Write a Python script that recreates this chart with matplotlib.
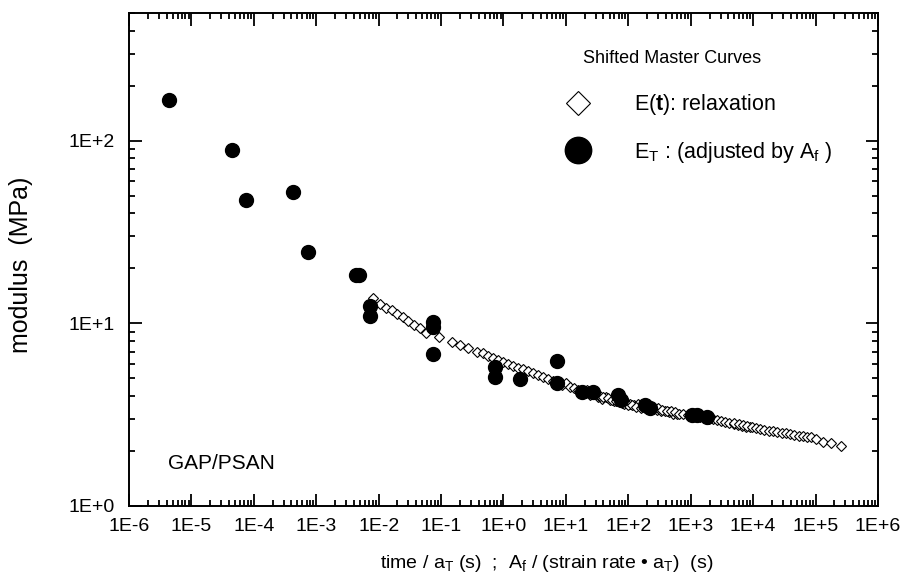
import matplotlib

matplotlib.use("Agg")
import matplotlib.pyplot as plt
from matplotlib.lines import Line2D
from matplotlib.ticker import LogLocator, NullFormatter
import numpy as np

plt.rcParams.update(
    {
        "font.family": ["Liberation Sans", "DejaVu Sans"],
        "mathtext.fontset": "custom",
        "mathtext.rm": "Liberation Sans",
        "mathtext.bf": "Liberation Sans:bold",
        "mathtext.default": "regular",
        "axes.linewidth": 1.4,
    }
)

# E(t): relaxation master curve (open diamonds), shifted segments
relax_t = [
    0.0081, 0.0105, 0.0131, 0.0164, 0.0197, 0.0246, 0.0296, 0.0369, 0.046, 0.0575,
    0.093, 0.15, 0.20, 0.27, 0.38, 0.47, 0.57, 0.68,
    0.82, 0.99, 1.19, 1.43, 1.71, 2.06, 2.48, 2.98, 3.58, 4.31, 5.18, 6.23,
    7.5, 8.7, 10, 11.6, 13.5, 15.6, 18, 21, 24, 28, 33, 38, 44, 51, 59, 68, 79, 92, 107, 124, 144,
    22, 26, 30, 35, 40, 47, 55, 64, 74, 86, 100, 116, 135, 157, 182, 211, 245, 285, 330, 383, 445, 516, 600,
    300, 350, 410, 480, 560, 650, 760, 890, 1040, 1210, 1410, 1650, 1930, 2250, 2630, 3070, 3580, 4180,
    4880, 5700, 6650, 7760, 9060,
    5000, 5900, 6900, 8100, 9500, 11100, 13000, 15200, 17800, 20800, 24400, 28500, 33400, 39100, 45700,
    53500, 62600, 73200, 85700,
    1.0e5, 1.3e5, 1.8e5, 2.6e5,
]
relax_E = [
    13.7, 12.7, 12.2, 11.8, 11.3, 10.8, 10.3, 9.75, 9.4, 8.9,
    8.4, 7.9, 7.6, 7.3, 7.0, 6.86, 6.6, 6.44,
    6.28, 6.12, 5.97, 5.82, 5.68, 5.6, 5.47, 5.33, 5.2, 5.07, 4.94, 4.82,
    4.8, 4.6, 4.7, 4.5, 4.45, 4.3, 4.2, 4.15, 4.05, 4.1, 3.95, 3.85, 3.95, 3.8, 3.75, 3.85, 3.65, 3.7, 3.6, 3.55, 3.6,
    4.3, 4.2, 4.1, 4.0, 3.95, 3.9, 3.8, 3.75, 3.7, 3.6, 3.55, 3.55, 3.5, 3.45, 3.45, 3.4, 3.4, 3.35, 3.3, 3.3, 3.25, 3.2, 3.2,
    3.45, 3.35, 3.3, 3.3, 3.25, 3.2, 3.2, 3.15, 3.15, 3.1, 3.08, 3.05, 3.0, 2.98, 2.95, 2.92, 2.88, 2.85,
    2.82, 2.78, 2.75, 2.72, 2.7,
    2.85, 2.8, 2.78, 2.74, 2.7, 2.68, 2.64, 2.62, 2.58, 2.56, 2.54, 2.52, 2.5, 2.48, 2.46,
    2.43, 2.41, 2.4, 2.38,
    2.32, 2.25, 2.2, 2.13,
]

# E_T adjusted by A_f (filled circles)
et_t = [
    4.4e-6, 4.5e-5, 7.5e-5, 4.25e-4, 7.4e-4, 4.3e-3, 4.8e-3, 7.3e-3, 7.3e-3,
    7.45e-2, 7.45e-2, 7.45e-2, 0.73, 0.73, 1.85, 7.2, 7.2,
    18.2, 27.3, 68.7, 77, 186, 224, 1050, 1270, 1830,
]
et_E = [
    167, 89, 47.6, 52.6, 24.7, 18.5, 18.5, 12.5, 10.9,
    10.2, 9.5, 6.76, 5.75, 5.07, 4.94, 6.2, 4.7,
    4.2, 4.2, 4.04, 3.8, 3.56, 3.43, 3.14, 3.14, 3.07,
]

x_ticks = [1e-6, 1e-5, 1e-4, 1e-3, 1e-2, 1e-1, 1e0, 1e1, 1e2, 1e3, 1e4, 1e5, 1e6]
x_tick_labels = ["1E-6", "1E-5", "1E-4", "1E-3", "1E-2", "1E-1", "1E+0",
                 "1E+1", "1E+2", "1E+3", "1E+4", "1E+5", "1E+6"]
y_ticks = [1, 10, 100]
y_tick_labels = ["1E+0", "1E+1", "1E+2"]

fig = plt.figure(figsize=(9.04, 5.80), dpi=100)
ax = fig.add_axes([0.1427, 0.1276, 0.8285, 0.85])

ax.plot(relax_t, relax_E, linestyle="none", marker="D", ms=5,
        mfc="white", mec="black", mew=0.8, zorder=2)
ax.plot(et_t, et_E, linestyle="none", marker="o", ms=10,
        mfc="black", mec="black", zorder=3)

ax.set_xscale("log")
ax.set_yscale("log")
ax.set_xlim(1e-6, 1e6)
ax.set_ylim(1, 500)
ax.set_xticks(x_ticks, labels=x_tick_labels)
ax.set_yticks(y_ticks, labels=y_tick_labels)
ax.xaxis.set_minor_locator(LogLocator(base=10, subs=np.arange(2, 10), numticks=100))
ax.yaxis.set_minor_locator(LogLocator(base=10, subs=np.arange(2, 10), numticks=100))
ax.xaxis.set_minor_formatter(NullFormatter())
ax.yaxis.set_minor_formatter(NullFormatter())

ax.tick_params(which="both", direction="in", top=True, right=True, width=1.3,
               labelsize=14)
ax.tick_params(which="major", length=9)
ax.tick_params(which="minor", length=4.5)
ax.tick_params(axis="x", pad=9)
ax.tick_params(axis="y", pad=10)

ax.set_ylabel("modulus  (MPa)", fontsize=18)
ax.yaxis.set_label_coords(-0.128, 0.49)
ax.set_xlabel("time / a$_{T}$ (s)  ;  A$_{f}$ / (strain rate \u2022 a$_{T}$)  (s)",
              fontsize=14)
ax.xaxis.set_label_coords(0.558, -0.095)

ax.text(0.052, 0.087, "GAP/PSAN", transform=ax.transAxes, fontsize=15,
        ha="left", va="center")
ax.text(0.606, 0.907, "Shifted Master Curves", transform=ax.transAxes,
        fontsize=13, ha="left", va="center")

handles = [
    Line2D([], [], linestyle="none", marker="D", ms=12.5, mfc="white",
           mec="black", mew=0.8),
    Line2D([], [], linestyle="none", marker="o", ms=19, mfc="black", mec="black"),
]
labels = ["E($\\mathbf{t}$): relaxation", "E$_{T}$ : (adjusted by A$_{f}$ )"]
ax.legend(handles, labels, loc="upper left", bbox_to_anchor=(0.581, 0.839),
          frameon=False, fontsize=15.5, handlelength=1.25, handletextpad=1.98,
          labelspacing=1.04, borderpad=0, borderaxespad=0)

fig.savefig("out.png", dpi=100)
